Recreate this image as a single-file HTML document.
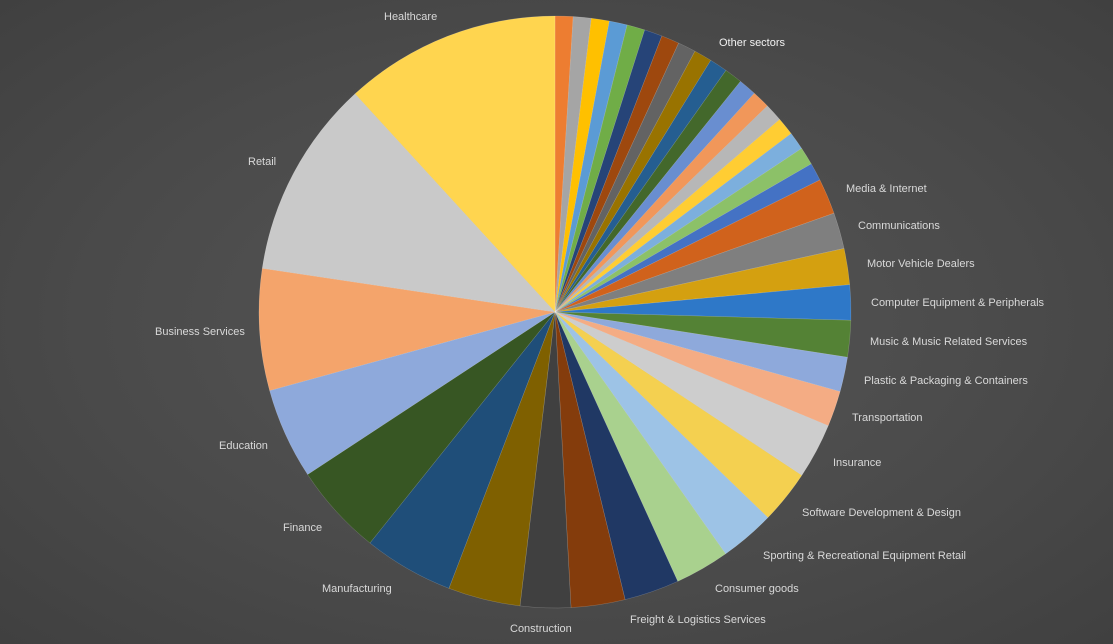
<!DOCTYPE html>
<html><head><meta charset="utf-8"><style>
html,body{margin:0;padding:0;width:1113px;height:644px;overflow:hidden;}
body{background:radial-gradient(ellipse at 50% 50%,#565656 0%,#4a4a4a 60%,#404040 100%);}
svg{position:absolute;left:0;top:0;}
text{font-family:"Liberation Sans",sans-serif;font-size:11px;fill:#d9d9d9;}
</style></head><body>
<svg id="s" width="1113" height="644" xmlns="http://www.w3.org/2000/svg">
<g id="p"></g>
<text x="384" y="20">Healthcare</text>
<text x="719" y="46" style="fill:#f2f2f2">Other sectors</text>
<text x="248" y="165">Retail</text>
<text x="155" y="335">Business Services</text>
<text x="219" y="449">Education</text>
<text x="283" y="531">Finance</text>
<text x="322" y="592">Manufacturing</text>
<text x="510" y="632">Construction</text>
<text x="630" y="623">Freight &amp; Logistics Services</text>
<text x="715" y="592">Consumer goods</text>
<text x="763" y="559">Sporting &amp; Recreational Equipment Retail</text>
<text x="802" y="516">Software Development &amp; Design</text>
<text x="833" y="466">Insurance</text>
<text x="852" y="421">Transportation</text>
<text x="864" y="384">Plastic &amp; Packaging &amp; Containers</text>
<text x="870" y="345">Music &amp; Music Related Services</text>
<text x="871" y="306">Computer Equipment &amp; Peripherals</text>
<text x="867" y="267">Motor Vehicle Dealers</text>
<text x="858" y="229">Communications</text>
<text x="846" y="192">Media &amp; Internet</text>
</svg>
<script>
var cx=555,cy=312,r=296;
var small=["#ED7D31","#A5A5A5","#FFC000","#5B9BD5","#70AD47","#264478","#9E480E","#636363","#997300","#255E91","#43682B","#698ED0","#F1975A","#B7B7B7","#FFCD33","#7CAFDD","#8CC168","#4472C4"];
var segs=[];var a=0,st=63.5/18;
small.forEach(function(c){segs.push([a,a+st,c]);a+=st;});
var big=[[63.5,70.5,"#D0621C"],[70.5,77.6,"#7F7F7F"],[77.6,84.7,"#D4A010"],[84.7,91.6,"#2E78C8"],[91.6,98.8,"#548235"],[98.8,105.6,"#8EA9DB"],[105.6,112.6,"#F4AC84"],[112.6,123.5,"#CDCDCD"],[123.5,134,"#F4D050"],[134,144.8,"#9DC3E6"],[144.8,155.5,"#A9D18E"],[155.5,166.3,"#203864"],[166.3,176.9,"#843C0C"],[176.9,186.8,"#404040"],[186.8,201,"#7F6000"],[201,218.7,"#1F4E79"],[218.7,236.7,"#375623"],[236.7,254.6,"#8EA9DB"],[254.6,278.5,"#F4A46B"],[278.5,317.5,"#C9C9C9"],[317.5,360,"#FFD54F"]];
segs=segs.concat(big);
function pt(d){var t=d*Math.PI/180;return [cx+r*Math.sin(t),cy-r*Math.cos(t)];}
var g=document.getElementById("p"),h="";
segs.forEach(function(s){var p1=pt(s[0]),p2=pt(s[1]);var lg=(s[1]-s[0])>180?1:0;
h+='<path d="M'+cx+','+cy+' L'+p1[0].toFixed(2)+','+p1[1].toFixed(2)+' A'+r+','+r+' 0 '+lg+' 1 '+p2[0].toFixed(2)+','+p2[1].toFixed(2)+' Z" fill="'+s[2]+'" stroke="rgba(255,255,255,0.25)" stroke-width="0.5"/>';});
g.innerHTML=h;
</script>
</body></html>
